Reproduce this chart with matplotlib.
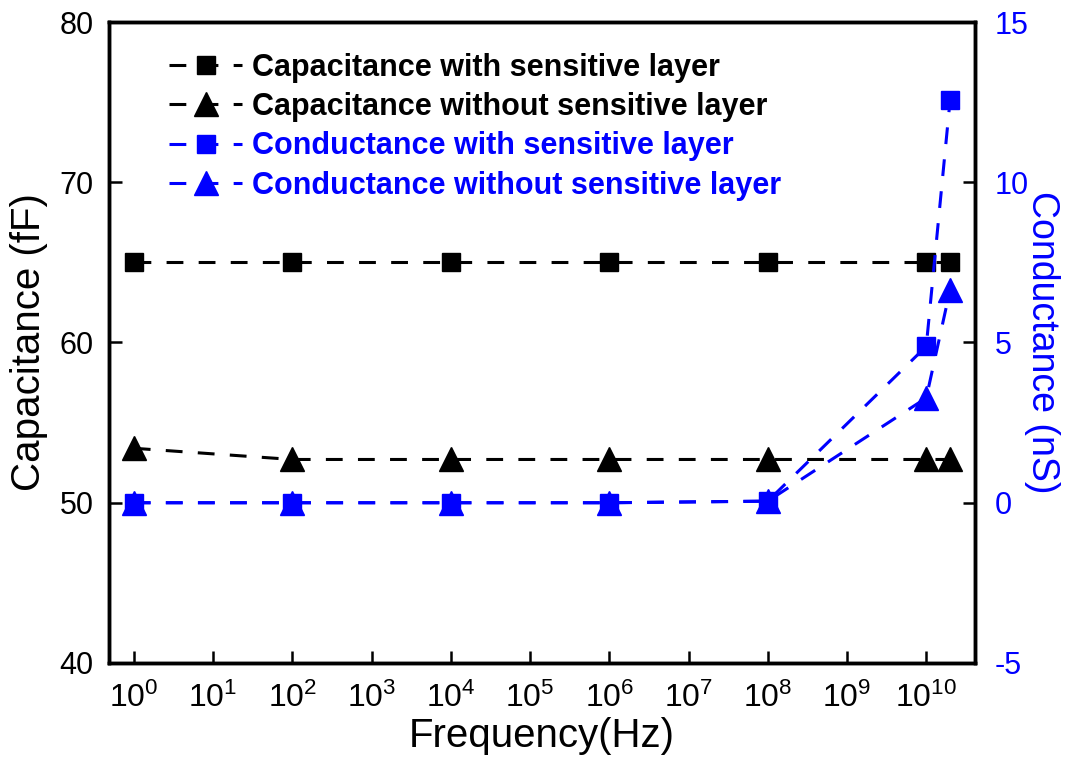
import math
import matplotlib
matplotlib.use('Agg')
import matplotlib.pyplot as plt
from matplotlib.ticker import FixedLocator, FuncFormatter

plt.rcParams['font.family'] = ['Liberation Sans', 'DejaVu Sans']
plt.rcParams['mathtext.fontset'] = 'custom'
plt.rcParams['mathtext.rm'] = 'Liberation Sans'
plt.rcParams['mathtext.it'] = 'Liberation Sans'
plt.rcParams['mathtext.bf'] = 'Liberation Sans:bold'
plt.rcParams['axes.unicode_minus'] = False

# data
freq = [1e0, 1e2, 1e4, 1e6, 1e8, 1e10, 2e10]
cap_with = [65, 65, 65, 65, 65, 65, 65]
cap_without = [53.4, 52.7, 52.7, 52.7, 52.7, 52.7, 52.7]
cond_with = [0, 0, 0, 0, 0.05, 4.88, 12.57]
cond_without = [0, 0, 0, 0, 0.05, 3.27, 6.65]

labels = ['Capacitance with sensitive layer', 'Capacitance without sensitive layer',
          'Conductance with sensitive layer', 'Conductance without sensitive layer']

blue = '#0000ff'
dash = (0, (5.5, 5))
lw = 2.2

fig = plt.figure(figsize=(10.66, 7.59), dpi=100)
ax = fig.add_axes([0.102, 0.1265, 0.813, 0.8445])
ax2 = ax.twinx()

l1, = ax.plot(freq, cap_with, ls=dash, lw=lw, color='black', marker='s', ms=13.5)
l2, = ax.plot(freq, cap_without, ls=dash, lw=lw, color='black', marker='^', ms=17)
l3, = ax2.plot(freq, cond_with, ls=dash, lw=lw, color=blue, marker='s', ms=13.5)
l4, = ax2.plot(freq, cond_without, ls=dash, lw=lw, color=blue, marker='^', ms=17)

ax.set_xscale('log')
ax.set_xlim(10 ** -0.316, 10 ** 10.62)
ax.set_ylim(40, 80)
ax2.set_ylim(-5, 15)

ax.xaxis.set_major_locator(FixedLocator([10.0 ** i for i in range(11)]))
ax.xaxis.set_minor_locator(FixedLocator([]))
ax.xaxis.set_major_formatter(FuncFormatter(lambda v, p: r'$\mathregular{10^{%d}}$' % round(math.log10(v))))
ax.set_yticks([40, 50, 60, 70, 80])
ax2.set_yticks([-5, 0, 5, 10, 15])

ax.tick_params(axis='both', which='major', direction='in', length=9, width=1.8)
ax.tick_params(axis='x', labelsize=23, pad=14)
ax.tick_params(axis='y', labelsize=22, pad=11)
ax2.tick_params(axis='y', direction='in', length=9, width=1.8, labelsize=22,
                labelcolor=blue, pad=14)

for a in (ax, ax2):
    for s in a.spines.values():
        s.set_linewidth(2.5)

ax.set_xlabel('Frequency(Hz)', fontsize=29, labelpad=2)
ax.set_ylabel('Capacitance (fF)', fontsize=29, labelpad=8)
ax2.set_ylabel('Conductance (nS)', fontsize=27, color=blue, rotation=270, labelpad=22)

leg = ax.legend([l1, l2, l3, l4], labels, loc='upper left', bbox_to_anchor=(0.045, 0.985),
                frameon=False, handlelength=2.4, handletextpad=0.3, labelspacing=0.3,
                borderaxespad=0.3, prop={'weight': 'bold', 'size': 22})
for t, c in zip(leg.get_texts(), ['black', 'black', blue, blue]):
    t.set_color(c)

fig.savefig('out.png', dpi=100)
